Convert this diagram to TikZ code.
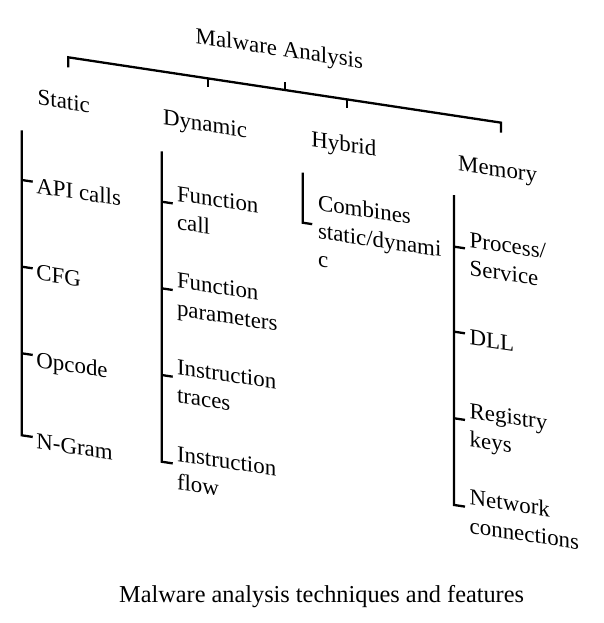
\documentclass[tikz,border=0pt]{standalone}
\usepackage{fontspec}
\setmainfont{Liberation Serif}
\begin{document}
\begin{tikzpicture}[x=1pt,y=-1pt,
  bar/.style={line width=2.3pt, line join=miter, line cap=butt},
  lbl/.style={inner sep=0pt, anchor=base west, align=left, transform shape,
    font=\fontsize{22.9}{28.3}\selectfont},
  capt/.style={inner sep=0pt, anchor=base, font=\fontsize{24.3}{29}\selectfont}]
\useasboundingbox (0,0) rectangle (604,623);
\fill[white] (0,0) rectangle (604,623);
\begin{scope}[yslant=-0.151]
  % root and top bracket
  \node[lbl] (root) at (195.5,13.7) {Malware Analysis};
  \coordinate (rootStem) at (285,39);
  \coordinate (bRoot) at (285,47);
  \coordinate (bL) at (68.3,47);   \coordinate (bLt) at (68.3,57);
  \coordinate (bR) at (501,47);    \coordinate (bRt) at (501,57);
  \coordinate (bD) at (208.3,47);  \coordinate (bDt) at (208.3,56);
  \coordinate (bH) at (347.3,47);  \coordinate (bHt) at (347.3,56);
  \draw[bar] (bLt) -- (bL) -- (bR) -- (bRt);
  \draw[bar] (bRoot) -- (rootStem);
  \draw[bar] (bD) -- (bDt);
  \draw[bar] (bH) -- (bHt);

  % category headers
  \node[lbl] (static)  at (37.5,99.2)  {Static};
  \node[lbl] (dynamic) at (162.8,100.3) {Dynamic};
  \node[lbl] (hybrid)  at (311.2,99.6) {Hybrid};
  \node[lbl] (memory)  at (458,101.5)  {Memory};

  % Static column
  \coordinate (sTop) at (21.7,127);
  \coordinate (s1) at (21.7,176.7) ; \coordinate (s1e) at (32.7,176.7);
  \coordinate (s2) at (21.7,263.4) ; \coordinate (s2e) at (32.7,263.4);
  \coordinate (s3) at (21.7,350)   ; \coordinate (s3e) at (32.7,350);
  \coordinate (s4) at (21.7,432)   ; \coordinate (s4e) at (32.7,432);
  \draw[bar] (sTop) -- (s4) -- (s4e);
  \draw[bar] (s1) -- (s1e);
  \draw[bar] (s2) -- (s2e);
  \draw[bar] (s3) -- (s3e);
  \node[lbl] (api)    at (36.2,187.8) {API calls};
  \node[lbl] (cfg)    at (36.2,274.5) {CFG};
  \node[lbl] (opcode) at (36.2,361.5) {Opcode};
  \node[lbl] (ngram)  at (36.2,443)   {N-Gram};

  % Dynamic column (base anchor = baseline of last line)
  \coordinate (dTop) at (161.7,127);
  \coordinate (d1) at (161.7,177.3) ; \coordinate (d1e) at (172.7,177.3);
  \coordinate (d2) at (161.7,263.9) ; \coordinate (d2e) at (172.7,263.9);
  \coordinate (d3) at (161.7,350.6) ; \coordinate (d3e) at (172.7,350.6);
  \coordinate (d4) at (161.7,437.3) ; \coordinate (d4e) at (172.7,437.3);
  \draw[bar] (dTop) -- (d4) -- (d4e);
  \draw[bar] (d1) -- (d1e);
  \draw[bar] (d2) -- (d2e);
  \draw[bar] (d3) -- (d3e);
  \node[lbl] (fcall)  at (176.8,202.6) {Function\\call};
  \node[lbl] (fparam) at (176.8,289.2) {Function\\parameters};
  \node[lbl] (itrace) at (176.8,375.9) {Instruction\\traces};
  \node[lbl] (iflow)  at (176.8,462.6) {Instruction\\flow};

  % Hybrid column
  \coordinate (hTop) at (302.7,127);
  \coordinate (h1) at (302.7,177) ; \coordinate (h1e) at (312.2,177);
  \draw[bar] (hTop) -- (h1) -- (h1e);
  \node[lbl] (comb) at (317.8,218.6) {Combines\\static/dynami\\c};

  % Memory column
  \coordinate (mTop) at (454,126.5);
  \coordinate (m1) at (454,178.1) ; \coordinate (m1e) at (465,178.1);
  \coordinate (m2) at (454,263.1) ; \coordinate (m2e) at (465,263.1);
  \coordinate (m3) at (454,349.7) ; \coordinate (m3e) at (465,349.7);
  \coordinate (m4) at (454,436.4) ; \coordinate (m4e) at (465,436.4);
  \draw[bar] (mTop) -- (m4) -- (m4e);
  \draw[bar] (m1) -- (m1e);
  \draw[bar] (m2) -- (m2e);
  \draw[bar] (m3) -- (m3e);
  \node[lbl] (proc) at (469.5,204.5) {Process/\\Service};
  \node[lbl] (dll)  at (469.5,274)   {DLL};
  \node[lbl] (reg)  at (469.5,375.5) {Registry\\keys};
  \node[lbl] (net)  at (469.5,462.1) {Network\\connections};
\end{scope}
\node[capt] (caption) at (321.6,602.7) {Malware analysis techniques and features};
\end{tikzpicture}
\end{document}
